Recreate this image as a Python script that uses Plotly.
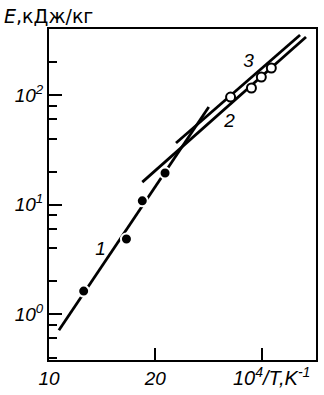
import plotly.graph_objects as go

# Data
filled_x = [13.26, 17.28, 18.77, 20.91]
filled_y = [1.62, 4.84, 10.8, 19.4]
open_x = [27.07, 29.03, 29.96, 30.90]
open_y = [95.9, 115.9, 146.0, 176.5]

line1_x = [10.93, 25.02]
line1_y = [0.71, 77.7]
line2_x = [18.77, 34.16]
line2_y = [16.0, 339.0]
line3_x = [21.94, 33.60]
line3_y = [36.5, 353.0]

curve_labels = ["1", "2", "3"]
label_x = [14.85, 26.98, 28.75]
label_y = [3.84, 56.6, 200.0]

x_tickvals = [10, 20, 30]
x_ticktext = ["10", "20", ""]
y_tickvals = [1, 10, 100]
y_ticktext = ["10<sup>0</sup>", "10<sup>1</sup>", "10<sup>2</sup>"]
y_minor = [0.4, 0.6, 0.8, 2, 4, 6, 8, 20, 40, 60, 80, 200]

FONT = "Liberation Sans, Arial, sans-serif"
fig = go.Figure()

for lx, ly in [(line1_x, line1_y), (line2_x, line2_y), (line3_x, line3_y)]:
    fig.add_trace(go.Scatter(x=lx, y=ly, mode="lines",
                             line=dict(color="black", width=2.8), showlegend=False))

fig.add_trace(go.Scatter(x=filled_x, y=filled_y, mode="markers",
                         marker=dict(size=11, color="black", line=dict(color="white", width=2)),
                         showlegend=False))
fig.add_trace(go.Scatter(x=open_x, y=open_y, mode="markers",
                         marker=dict(size=9, color="white", line=dict(color="black", width=2)),
                         showlegend=False))

fig.add_trace(go.Scatter(x=label_x, y=label_y, mode="text", text=curve_labels,
                         textfont=dict(family=FONT, size=19, color="black", style="italic"),
                         showlegend=False))

fig.update_xaxes(range=[10, 35.1], tickvals=x_tickvals, ticktext=x_ticktext,
                 ticks="inside", ticklen=12, tickwidth=2, tickcolor="black",
                 showline=True, linewidth=2, linecolor="black", mirror=True,
                 showgrid=False, zeroline=False,
                 tickfont=dict(family=FONT, size=19, color="black", style="italic"))
fig.update_yaxes(type="log", range=[-0.420, 2.603], tickvals=y_tickvals, ticktext=y_ticktext,
                 ticks="inside", ticklen=13, tickwidth=2, tickcolor="black",
                 minor=dict(tickvals=y_minor, ticks="inside", ticklen=8, tickwidth=2,
                            tickcolor="black", showgrid=False),
                 showline=True, linewidth=2, linecolor="black", mirror=True,
                 showgrid=False, zeroline=False,
                 tickfont=dict(family=FONT, size=19, color="black", style="italic"))

fig.add_annotation(xref="paper", yref="paper", x=-0.175, y=1.039,
                   xanchor="left", yanchor="middle", showarrow=False,
                   text="<i>E</i>,кДж/кг",
                   font=dict(family="DejaVu Sans, sans-serif", size=19, color="black"))
fig.add_annotation(xref="paper", yref="paper", x=0.835, y=-0.051,
                   xanchor="center", yanchor="middle", showarrow=False,
                   text="10<sup>4</sup>/<i>T</i>,K<sup>-1</sup>",
                   font=dict(family=FONT, size=20, color="black", style="italic"))

fig.update_layout(width=324, height=395, margin=dict(l=49, r=6, t=29, b=35),
                  plot_bgcolor="white", paper_bgcolor="white")

fig.write_html("out.html")
